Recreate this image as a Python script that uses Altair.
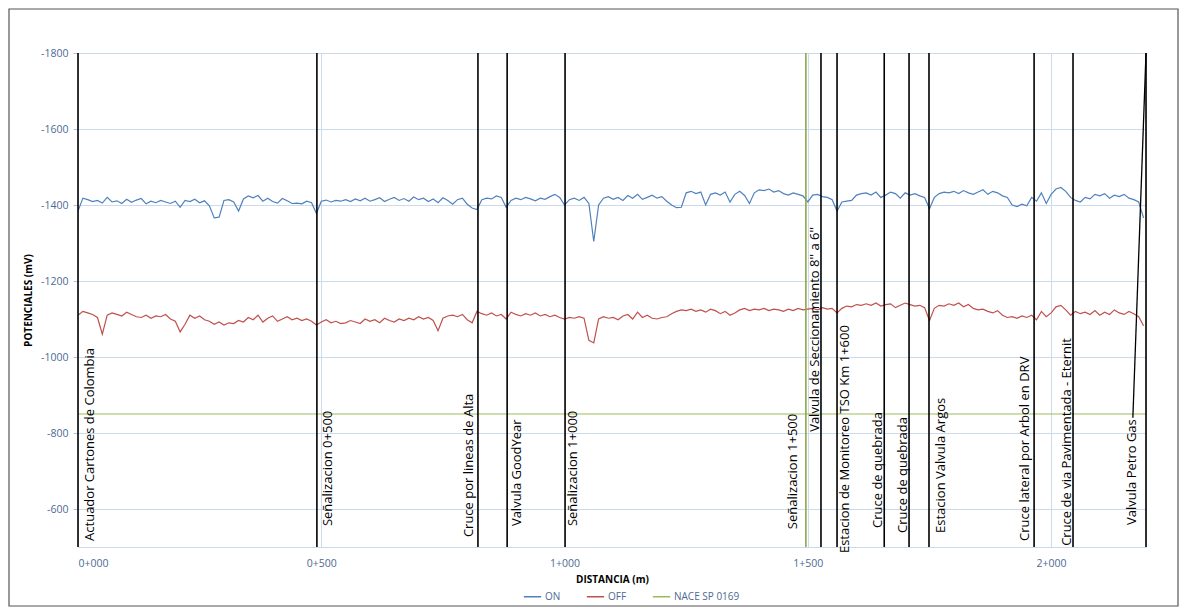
import altair as alt
import pandas as pd

# ---------------- data ----------------
step_distance = list(range(0, 2200, 10))

on_mv = [
    -1384, -1418, -1414, -1409, -1412, -1405, -1420, -1408, -1411, -1404,
    -1415, -1407, -1413, -1417, -1403, -1410, -1406, -1412, -1408, -1404,
    -1410, -1394, -1412, -1409, -1415, -1406, -1411, -1398, -1366, -1368,
    -1412, -1414, -1408, -1384, -1416, -1424, -1419, -1425, -1410, -1418,
    -1409, -1405, -1417, -1411, -1404, -1405, -1403, -1410, -1406, -1378,
    -1410, -1413, -1408, -1412, -1410, -1414, -1409, -1416, -1411, -1418,
    -1410, -1414, -1419, -1409, -1415, -1420, -1412, -1417, -1410, -1421,
    -1414, -1418, -1409, -1416, -1406, -1419, -1412, -1402, -1414, -1418,
    -1402, -1392, -1388, -1414, -1418, -1416, -1424, -1420, -1394, -1412,
    -1418, -1414, -1420, -1416, -1411, -1418, -1415, -1422, -1428, -1420,
    -1400, -1414, -1418, -1412, -1420, -1404, -1304, -1400, -1418, -1422,
    -1415, -1420, -1412, -1425, -1418, -1428, -1415, -1420, -1426, -1418,
    -1422, -1410, -1400, -1393, -1394, -1432, -1436, -1430, -1434, -1400,
    -1428, -1432, -1426, -1434, -1408, -1428, -1436, -1425, -1404, -1432,
    -1440, -1438, -1442, -1434, -1438, -1430, -1426, -1432, -1428, -1424,
    -1408, -1426, -1428, -1422, -1420, -1414, -1384, -1408, -1410, -1412,
    -1426, -1430, -1432, -1426, -1434, -1420, -1426, -1434, -1430, -1418,
    -1432, -1426, -1430, -1424, -1420, -1390, -1420, -1430, -1434, -1432,
    -1436, -1430, -1438, -1432, -1428, -1434, -1440, -1428, -1436, -1432,
    -1424, -1420, -1400, -1396, -1402, -1398, -1420, -1410, -1432, -1404,
    -1428, -1442, -1446, -1436, -1420, -1412, -1408, -1420, -1416, -1428,
    -1424, -1430, -1418, -1426, -1422, -1428, -1418, -1414, -1408, -1366,
]

off_mv = [
    -1110, -1120, -1116, -1112, -1104, -1060, -1110, -1116, -1112, -1108,
    -1118, -1112, -1106, -1104, -1110, -1102, -1108, -1106, -1112, -1100,
    -1094, -1066, -1086, -1110, -1102, -1108, -1098, -1094, -1086, -1092,
    -1084, -1090, -1088, -1096, -1092, -1104, -1098, -1110, -1092, -1102,
    -1108, -1094, -1100, -1106, -1098, -1102, -1096, -1100, -1094, -1084,
    -1092, -1098, -1090, -1094, -1088, -1090, -1096, -1092, -1088, -1100,
    -1094, -1098, -1090, -1102, -1096, -1092, -1100, -1096, -1102, -1098,
    -1106, -1100, -1104, -1096, -1069, -1102, -1108, -1110, -1106, -1112,
    -1098, -1090, -1120, -1114, -1110, -1116, -1108, -1112, -1100, -1118,
    -1112, -1108, -1114, -1110, -1116, -1108, -1112, -1106, -1110, -1104,
    -1100, -1104, -1102, -1106, -1102, -1044, -1037, -1100, -1106, -1102,
    -1104, -1098, -1108, -1112, -1100, -1118, -1104, -1110, -1102, -1100,
    -1104, -1106, -1114, -1120, -1124, -1122, -1126, -1120, -1124, -1118,
    -1126, -1122, -1114, -1120, -1110, -1116, -1124, -1128, -1122, -1126,
    -1124, -1128, -1122, -1126, -1124, -1120, -1126, -1122, -1128, -1124,
    -1126, -1128, -1124, -1130, -1126, -1128, -1116, -1128, -1134, -1132,
    -1138, -1136, -1140, -1136, -1142, -1134, -1138, -1140, -1130, -1136,
    -1142, -1138, -1134, -1136, -1130, -1096, -1128, -1136, -1134, -1140,
    -1136, -1142, -1132, -1138, -1128, -1124, -1126, -1120, -1116, -1122,
    -1110, -1104, -1106, -1102, -1108, -1104, -1110, -1098, -1120, -1106,
    -1116, -1132, -1136, -1124, -1110, -1120, -1114, -1118, -1112, -1122,
    -1110, -1118, -1112, -1124, -1116, -1112, -1120, -1114, -1106, -1082,
]

nace_distance = [0, 2195]
nace_mv = [-850, -850]

marker_names = [
    "Actuador Cartones de Colombia", "Señalizacion 0+500", "Cruce por lineas de Alta",
    "Valvula GoodYear", "Señalizacion 1+000", "Señalizacion 1+500",
    "Valvula de Seccionamiento 8'' a 6''", "Estacion de Monitoreo TSO Km 1+600",
    "Cruce de quebrada", "Cruce de quebrada", "Estacion Valvula Argos",
    "Cruce lateral por Arbol en DRV", "Cruce de via Pavimentada - Eternit",
    "Valvula Petro Gas",
]
marker_distance = [0, 491, 822, 882, 1001, 1496, 1527, 1560, 1657, 1708, 1749, 1965, 2045, 2195]
marker_color = ["black"] * 5 + ["#8aa84a"] + ["black"] * 8
label_distance = [25, 514, 804, 902, 1017, 1470, 1515, 1577, 1644, 1696, 1774, 1947, 2033, 2166]
label_mv = [-516, -555, -526, -555, -555, -547, -803, -484, -550, -537, -537, -516, -503, -558]

leader_distance = [2168, 2195]
leader_mv = [-840, -1800]

series_names = ["ON", "OFF", "NACE SP 0169"]
series_colors = ["#4f81bd", "#c0504d", "#9bbb59"]
x_ticks = [0, 500, 1000, 1500, 2000]
y_ticks = [-1800, -1600, -1400, -1200, -1000, -800, -600]

# ---------------- tables ----------------
lines_df = pd.concat([
    pd.DataFrame({"d": step_distance, "mv": on_mv, "serie": "ON"}),
    pd.DataFrame({"d": step_distance, "mv": off_mv, "serie": "OFF"}),
    pd.DataFrame({"d": nace_distance, "mv": nace_mv, "serie": "NACE SP 0169"}),
])
markers_df = pd.DataFrame({
    "name": marker_names, "d": marker_distance, "col": marker_color,
    "ld": label_distance, "lmv": label_mv,
})
leader_df = pd.DataFrame({"d": [leader_distance[0]], "d2": [leader_distance[1]],
                          "mv": [leader_mv[0]], "mv2": [leader_mv[1]]})

W, H = 1068, 494
FONT = "Open Sans"
TICK_COLOR = "#4e6a94"
GRID = "#cbdaed"

x_scale = alt.Scale(domain=[0, 2195], nice=False, zero=False)
y_scale = alt.Scale(domain=[-1800, -500], reverse=True, nice=False, zero=False)

x_label_expr = ("floor(datum.value/1000) + '+' + (datum.value % 1000 < 10 ? '00' : "
                "(datum.value % 1000 < 100 ? '0' : '')) + (datum.value % 1000)")

x_axis = alt.Axis(values=x_ticks, labelExpr=x_label_expr, title="DISTANCIA (m)",
                  grid=True, gridColor=GRID, domainColor=GRID, ticks=False,
                  labelColor=TICK_COLOR, labelFont=FONT, labelFontSize=10.5,
                  labelPadding=11, titleFont=FONT, titleFontSize=10, titleFontWeight="bold",
                  titleColor="black", titlePadding=6)
y_axis = alt.Axis(values=y_ticks, labelExpr="'' + datum.value", title="POTENCIALES (mV)",
                  grid=True, gridColor=GRID,
                  domainColor=GRID, tickColor="#b8c2cf", tickSize=5,
                  labelColor=TICK_COLOR, labelFont=FONT, labelFontSize=10.5,
                  labelPadding=5, titleFont=FONT, titleFontSize=10, titleFontWeight="bold",
                  titleColor="black", titlePadding=7)

base_lines = alt.Chart(lines_df).mark_line(strokeWidth=1.2, clip=True).encode(
    x=alt.X("d:Q", scale=x_scale, axis=x_axis),
    y=alt.Y("mv:Q", scale=y_scale, axis=y_axis),
    color=alt.Color("serie:N", sort=series_names,
                    scale=alt.Scale(domain=series_names, range=series_colors),
                    legend=alt.Legend(title=None, orient="none", direction="horizontal",
                                      legendX=445, legendY=534, symbolType="stroke",
                                      symbolSize=300, symbolStrokeWidth=1.5,
                                      labelFont=FONT, labelFontSize=10,
                                      labelColor=TICK_COLOR, columnPadding=22,
                                      symbolOffset=0, labelOffset=3)),
    detail="serie:N",
)

rules = alt.Chart(markers_df).mark_rule(strokeWidth=1.6).encode(
    x=alt.X("d:Q", scale=x_scale),
    y=alt.value(0), y2=alt.value(H),
    color=alt.Color("col:N", scale=None),
)

labels = alt.Chart(markers_df).mark_text(angle=270, align="left", baseline="middle",
                                          font=FONT, fontSize=13, color="black").encode(
    x=alt.X("ld:Q", scale=x_scale),
    y=alt.Y("lmv:Q", scale=y_scale),
    text="name:N",
)

leader = alt.Chart(leader_df).mark_rule(strokeWidth=1.3, color="black").encode(
    x=alt.X("d:Q", scale=x_scale), x2="d2:Q",
    y=alt.Y("mv:Q", scale=y_scale), y2="mv2:Q",
)

frame = alt.Chart(pd.DataFrame({"k": [0]})).mark_rect(
    fill=None, stroke="#555555", strokeWidth=1.2).encode(
    x=alt.value(-69), x2=alt.value(1100), y=alt.value(-44), y2=alt.value(553),
)

chart = alt.layer(frame, base_lines, rules, labels, leader).properties(
    width=W, height=H,
    autosize=alt.AutoSizeParams(type="none"),
    padding={"left": 70, "top": 45, "right": 33, "bottom": 60},
).configure_view(stroke=None).configure(background="white")

chart.save("out.html", embed_options={"renderer": "svg", "actions": False})
